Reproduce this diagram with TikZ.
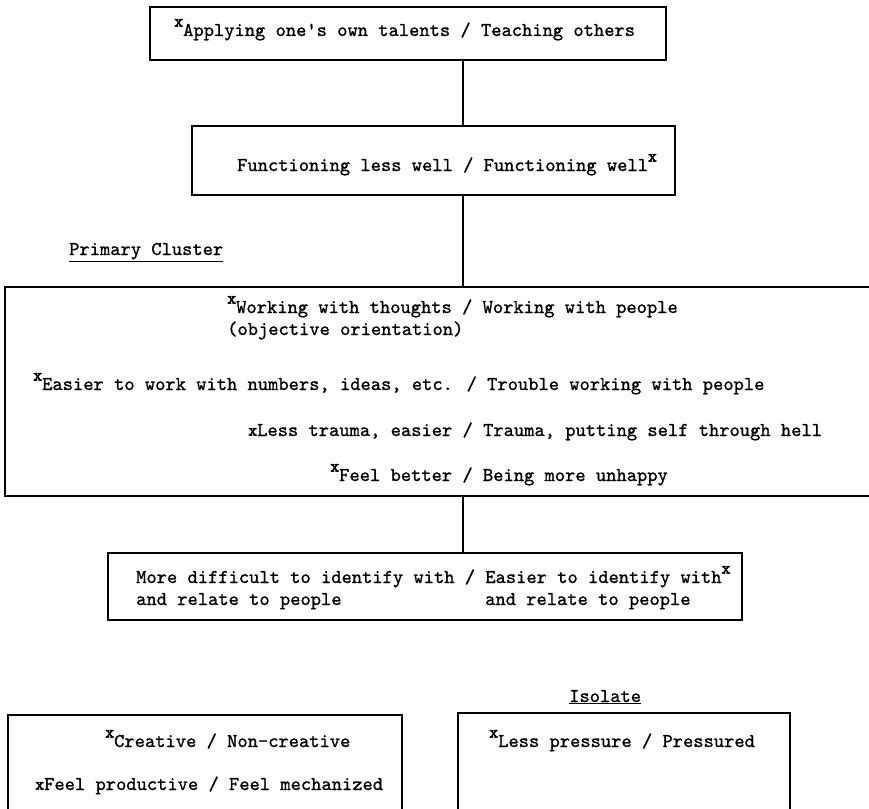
\documentclass[tikz,border=0pt]{standalone}
\usepackage{fontspec}
\newfontfamily\twfont{lmmono10-regular.otf}[FakeBold=1]
\newfontfamily\mkfont{lmmono10-regular.otf}[FakeBold=3]

\newcommand\tw{\fontsize{19.56}{23}\selectfont\twfont}
\newcommand\mkglyph{{\fontsize{17}{17}\selectfont\mkfont x}}
\newcommand\mk{\llap{\raisebox{9.5pt}{\mkglyph}}}
\newcommand\mkend{\rlap{\raisebox{9.5pt}{\mkglyph}}}
\newcommand\mklow{\llap{\raisebox{0.5pt}{\mkglyph}}}

\begin{document}
\begin{tikzpicture}[x=1pt, y=-1pt,
    box/.style={draw, line width=1.3pt, inner sep=0pt},
    txt/.style={anchor=base west, inner sep=0pt, font=\tw},
    link/.style={line width=1.3pt}]
    \useasboundingbox (0,0) rectangle (869,808);
    \clip (0,0) rectangle (869,808);
    % boxes
    \node[box, minimum width=516pt, minimum height=53pt] (talents) at (408,33.5) {};
    \node[box, minimum width=483pt, minimum height=69pt] (functioning) at (433.5,160.5) {};
    \node[box, minimum width=885pt, minimum height=209pt] (primary) at (447.5,391.5) {};
    \node[box, minimum width=634pt, minimum height=67pt] (identify) at (425,586.5) {};
    \node[box, minimum width=394pt, minimum height=115pt] (creativebox) at (205,772.5) {};
    \node[box, minimum width=332pt, minimum height=117pt] (isolatebox) at (624,771.5) {};
    % texts
    \node[txt] (talents-txt) at (183,36) {\mk Applying one's own talents / Teaching others};
    \node[txt] (functioning-txt) at (237,171) {Functioning less well / Functioning well\mkend};
    \node[txt] (primary-lbl) at (69,255) {\underline{Primary Cluster}};
    \node[txt] (thoughts) at (236,313) {\mk Working with thoughts / Working with people};
    \node[txt] (objective) at (227,335) {(objective orientation)};
    \node[txt] (numbers) at (42,390) {\mk Easier to work with numbers, ideas, etc. / Trouble working with people};
    \node[txt] (trauma) at (257,436) {\mklow Less trauma, easier / Trauma, putting self through hell};
    \node[txt] (unhappy) at (339,481) {\mk Feel better / Being more unhappy};
    \node[txt] (identify-a) at (136,583) {More difficult to identify with / Easier to identify with\mkend};
    \node[txt] (relate-a) at (136,605) {and relate to people};
    \node[txt] (relate-b) at (485,605) {and relate to people};
    \node[txt] (isolate-lbl) at (569,702) {\underline{Isolate}};
    \node[txt] (creative) at (114,747) {\mk Creative / Non-creative};
    \node[txt] (productive) at (44,790) {\mklow Feel productive / Feel mechanized};
    \node[txt] (pressure) at (498,747) {\mk Less pressure / Pressured};
    % links
    \coordinate (trunk) at (463,0);
    \draw[link] (talents.south -| trunk) -- (functioning.north -| trunk);
    \draw[link] (functioning.south -| trunk) -- (primary.north -| trunk);
    \draw[link] (primary.south -| trunk) -- (identify.north -| trunk);
\end{tikzpicture}
\end{document}
